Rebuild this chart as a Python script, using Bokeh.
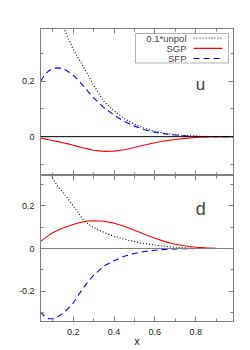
from bokeh.plotting import figure
from bokeh.models import (Range1d, LinearAxis, FixedTicker, Span, Label, BoxAnnotation, Arrow,
                          CustomLabelingPolicy)
from bokeh.layouts import column
from bokeh.embed import file_html
from bokeh.resources import INLINE

# ---------------- data ----------------
x = [0.04, 0.06, 0.08, 0.10, 0.125, 0.15, 0.175, 0.2, 0.225, 0.25, 0.275, 0.3,
     0.35, 0.4, 0.45, 0.5, 0.55, 0.6, 0.65, 0.7, 0.75, 0.8, 0.85, 0.9, 0.95, 1.0]

unpol_u = [0.85, 0.72, 0.62, 0.54, 0.46, 0.40, 0.355, 0.315, 0.283, 0.253, 0.220, 0.185,
           0.127, 0.093, 0.065, 0.045, 0.030, 0.019, 0.012, 0.007, 0.004, 0.002, 0.001, 0, 0, 0]
sgp_u = [-0.005, -0.008, -0.011, -0.014, -0.018, -0.022, -0.026, -0.031, -0.036, -0.041, -0.045, -0.049,
         -0.053, -0.052, -0.047, -0.039, -0.030, -0.022, -0.015, -0.010, -0.006, -0.003, -0.001, 0, 0, 0]
sfp_u = [0.200, 0.222, 0.237, 0.245, 0.248, 0.245, 0.235, 0.222, 0.204, 0.183, 0.161, 0.140,
         0.105, 0.078, 0.055, 0.038, 0.025, 0.016, 0.010, 0.006, 0.003, 0.001, 0, 0, 0, 0]

unpol_d = [0.60, 0.43, 0.36, 0.325, 0.29, 0.261, 0.231, 0.199, 0.165, 0.134, 0.113, 0.098,
           0.075, 0.057, 0.043, 0.032, 0.023, 0.016, 0.010, 0.006, 0.003, 0.001, 0, 0, 0, 0]
sgp_d = [0.032, 0.047, 0.061, 0.073, 0.085, 0.095, 0.104, 0.112, 0.119, 0.124, 0.128, 0.129,
         0.127, 0.118, 0.104, 0.085, 0.066, 0.048, 0.032, 0.020, 0.012, 0.006, 0.003, 0.001, 0, 0]
sfp_d = [-0.295, -0.317, -0.327, -0.327, -0.318, -0.302, -0.280, -0.254, -0.218, -0.183, -0.152, -0.125,
         -0.082, -0.057, -0.036, -0.023, -0.014, -0.008, -0.004, -0.002, -0.001, 0, 0, 0, 0, 0]

x_major = [0.2, 0.4, 0.6, 0.8]
x_minor = [0.1, 0.3, 0.5, 0.7, 0.9]
y_major = [-0.2, 0, 0.2]
y_minor = [-0.3, -0.1, 0.1, 0.3]
y_labels = {-0.2: "-0.2", 0: "0", 0.2: "0.2"}
legend_labels = ["0.1*unpol", "SGP", "SFP"]
x_title = "x"

# ---------------- layout / style ----------------
X0, X1 = 0.04, 0.985
TOP_Y = (-0.14, 0.39)
BOT_Y = (-0.34, 0.34)
GRAY = "#808080"
FONT = "Liberation Sans"

# page-pixel geometry of the frames (used for annotations)
FL, FR = 40.0, 233.0
T_TOP, T_BOT = 28.0, 175.0
B_TOP, B_BOT = 175.0, 321.0


def dx(px):
    return X0 + (px - FL) * (X1 - X0) / (FR - FL)


def dy(py, top, bot, yr):
    return yr[1] - (py - top) * (yr[1] - yr[0]) / (bot - top)


xr = Range1d(X0, X1)
NO_LABELS = "for (const i of Array.from(indices)) { indices.unset(i) }\nreturn indices"


def style_axis(ax, major, minor, labels=None):
    ax.ticker = FixedTicker(ticks=major, minor_ticks=minor)
    ax.major_tick_in = 5
    ax.major_tick_out = 0
    ax.minor_tick_in = 3
    ax.minor_tick_out = 0
    ax.axis_line_color = GRAY
    ax.major_tick_line_color = GRAY
    ax.minor_tick_line_color = GRAY
    ax.axis_label = None
    if labels is False:
        ax.major_label_text_font_size = "0px"
        ax.major_label_standoff = 0
        ax.major_label_policy = CustomLabelingPolicy(code=NO_LABELS)
    else:
        ax.major_label_text_font = FONT
        ax.major_label_text_font_size = "9px"
        ax.major_label_text_color = "#222222"
        if isinstance(labels, dict):
            ax.major_label_overrides = labels


def make_fig(height, yr, top, bottom, show_x_labels):
    p = figure(width=250, height=height, x_range=xr, y_range=Range1d(*yr),
               output_backend="svg", toolbar_location=None,
               min_border_left=40, min_border_right=17,
               min_border_top=top, min_border_bottom=bottom)
    p.grid.visible = False
    p.outline_line_color = GRAY
    p.outline_line_width = 1
    p.background_fill_color = "white"
    p.border_fill_color = "white"
    style_axis(p.xaxis[0], x_major, x_minor, None if show_x_labels else False)
    if show_x_labels:
        ax = p.xaxis[0]
        ax.major_label_standoff = 7
        ax.axis_label = x_title
        ax.axis_label_standoff = -3
        ax.axis_label_text_font = FONT
        ax.axis_label_text_font_size = "11px"
        ax.axis_label_text_font_style = "normal"
        ax.axis_label_text_color = "#222222"
    style_axis(p.yaxis[0], y_major, y_minor, y_labels)
    p.yaxis[0].major_label_standoff = 6
    ra = LinearAxis()
    style_axis(ra, y_major, y_minor, False)
    p.add_layout(ra, "right")
    ta = LinearAxis()
    style_axis(ta, x_major, x_minor, False)
    p.add_layout(ta, "above")
    return p


p1 = make_fig(175, TOP_Y, 28, 0, False)
p2 = make_fig(175, BOT_Y, 0, 29, True)

for p, ys, zcol in ((p1, (unpol_u, sgp_u, sfp_u), "black"), (p2, (unpol_d, sgp_d, sfp_d), GRAY)):
    p.add_layout(Span(location=0, dimension="width", line_color=zcol, line_width=1))
    p.line(x, ys[0], line_color="black", line_dash="1 2", line_width=1.1)
    p.line(x, ys[1], line_color="#ff0000", line_width=1.1)
    p.line(x, ys[2], line_color="#0000ff", line_dash="6 4", line_width=1.1)

# panel letters
p1.add_layout(Label(x=dx(200), y=dy(83.5, T_TOP, T_BOT, TOP_Y), text="u", text_align="center",
                    text_baseline="alphabetic", text_font=FONT, text_font_size="17px"))
p2.add_layout(Label(x=dx(200.3), y=dy(208.3, B_TOP, B_BOT, BOT_Y), text="d", text_align="center",
                    text_baseline="alphabetic", text_font=FONT, text_font_size="18px"))

# legend (label left, sample right)
p1.add_layout(BoxAnnotation(left=dx(135), right=dx(228), top=dy(33, T_TOP, T_BOT, TOP_Y),
                            bottom=dy(62.5, T_TOP, T_BOT, TOP_Y), fill_alpha=0,
                            line_color="black", line_width=1))
rows = [37.5, 47.8, 58.0]
styles = [dict(line_color="black", line_dash="1 2", line_width=1.1),
          dict(line_color="#ff0000", line_width=1.2),
          dict(line_color="#0000ff", line_dash="6 4", line_width=1.2)]
for lab, row, st in zip(legend_labels, rows, styles):
    yy = dy(row, T_TOP, T_BOT, TOP_Y)
    p1.add_layout(Label(x=dx(186), y=yy, text=lab, text_align="right", text_baseline="middle",
                        text_font=FONT, text_font_size="9.5px"))
    p1.add_layout(Arrow(x_start=dx(193), x_end=dx(222), y_start=yy, y_end=yy,
                        start=None, end=None, **st))

layout = column(p1, p2)
open("out.html", "w").write(file_html(layout, INLINE))
